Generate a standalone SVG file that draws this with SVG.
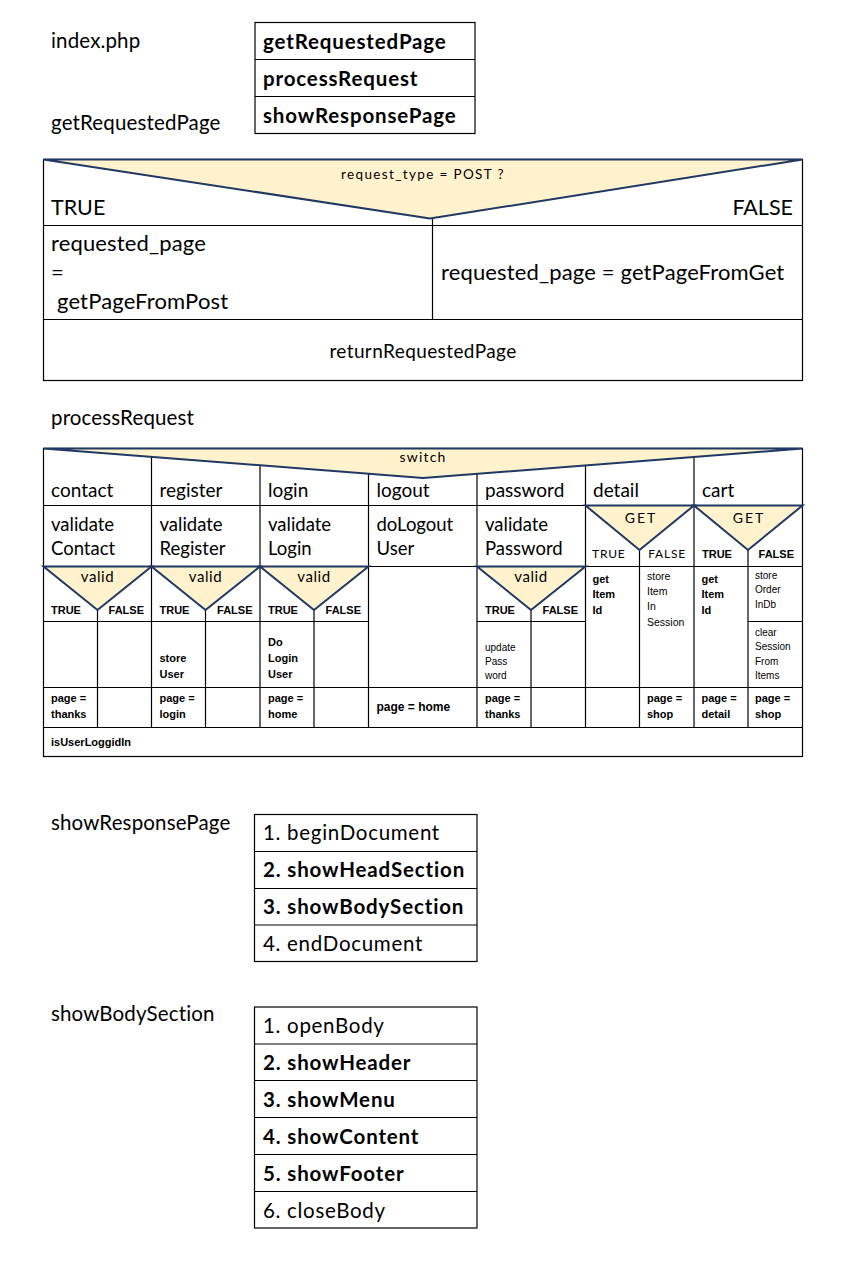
<svg xmlns="http://www.w3.org/2000/svg" width="850" height="1276" viewBox="0 0 850 1276">
<style>
.bg{fill:#fff}
.g{stroke:#000;stroke-width:1.2;fill:none}
.tri{fill:#fff2cc;stroke:#1f3864;stroke-width:2;stroke-linejoin:miter}
.t{font-family:Lato,"Liberation Sans",sans-serif;fill:#000}
.lb{font-size:20.5px;letter-spacing:0.15px}
.bx{font-size:20.5px;letter-spacing:0.7px}
.b{font-weight:bold;letter-spacing:0.85px}
.sb{font-family:"Liberation Sans",Arial,sans-serif;font-weight:bold;font-size:11px;fill:#000}
.sn{font-family:"Liberation Sans",Arial,sans-serif;font-size:10px;fill:#000}
.c{text-anchor:middle}
.e{text-anchor:end}
</style>
<rect class="bg" x="0" y="0" width="850" height="1276"/>

<g id="index">
  <text class="t lb" x="51" y="48">index.php</text>
  <rect class="g" x="255" y="22.5" width="220" height="111"/>
  <line class="g" x1="255" y1="59.5" x2="475" y2="59.5"/>
  <line class="g" x1="255" y1="96.5" x2="475" y2="96.5"/>
  <text class="t bx b" x="263" y="49">getRequestedPage</text>
  <text class="t bx b" x="263" y="86">processRequest</text>
  <text class="t bx b" x="263" y="123">showResponsePage</text>
</g>

<g id="getRequestedPage">
  <text class="t lb" x="51" y="130">getRequestedPage</text>
  <rect class="g" x="43.5" y="159.5" width="759" height="221"/>
  <line class="g" x1="43.5" y1="225.5" x2="802.5" y2="225.5"/>
  <line class="g" x1="43.5" y1="319.5" x2="802.5" y2="319.5"/>
  <line class="g" x1="432.5" y1="218" x2="432.5" y2="319.5"/>
  <polygon class="tri" points="43.5,159.5 802.5,159.5 430,218.5"/>
  <text class="t c" x="423" y="179" style="font-size:13.5px;letter-spacing:1.35px">request_type = POST ?</text>
  <text class="t" x="51" y="215" style="font-size:21.5px">TRUE</text>
  <text class="t e" x="793" y="215" style="font-size:21.5px">FALSE</text>
  <text class="t" x="51" y="251" style="font-size:22px;letter-spacing:0.15px">requested_page</text>
  <text class="t" x="51" y="280" style="font-size:22px">=</text>
  <text class="t" x="57" y="309" style="font-size:22px;letter-spacing:0.15px">getPageFromPost</text>
  <text class="t" x="441" y="280" style="font-size:22px;letter-spacing:0.15px">requested_page = getPageFromGet</text>
  <text class="t c" x="423" y="358" style="font-size:19px;letter-spacing:0.4px">returnRequestedPage</text>
</g>

<g id="processRequest">
  <text class="t lb" x="51" y="425">processRequest</text>
  <rect class="g" x="43.5" y="448.5" width="759" height="308"/>
  <g id="grid">
    <line class="g" x1="151.5" y1="448.5" x2="151.5" y2="727.5"/>
    <line class="g" x1="260" y1="448.5" x2="260" y2="727.5"/>
    <line class="g" x1="368.5" y1="448.5" x2="368.5" y2="727.5"/>
    <line class="g" x1="477" y1="448.5" x2="477" y2="727.5"/>
    <line class="g" x1="585.5" y1="448.5" x2="585.5" y2="727.5"/>
    <line class="g" x1="694" y1="448.5" x2="694" y2="727.5"/>
    <line class="g" x1="43.5" y1="505.5" x2="802.5" y2="505.5"/>
    <line class="g" x1="43.5" y1="566.5" x2="802.5" y2="566.5"/>
    <line class="g" x1="43.5" y1="621.5" x2="368.5" y2="621.5"/>
    <line class="g" x1="477" y1="621.5" x2="585.5" y2="621.5"/>
    <line class="g" x1="748" y1="621.5" x2="802.5" y2="621.5"/>
    <line class="g" x1="43.5" y1="687.5" x2="802.5" y2="687.5"/>
    <line class="g" x1="43.5" y1="727.5" x2="802.5" y2="727.5"/>
    <line class="g" x1="97.5" y1="610" x2="97.5" y2="727.5"/>
    <line class="g" x1="205.5" y1="610" x2="205.5" y2="727.5"/>
    <line class="g" x1="314" y1="610" x2="314" y2="727.5"/>
    <line class="g" x1="531" y1="610" x2="531" y2="727.5"/>
    <line class="g" x1="639.5" y1="550" x2="639.5" y2="727.5"/>
    <line class="g" x1="748" y1="550" x2="748" y2="727.5"/>
  </g>
  <polygon class="tri" points="43.5,448.5 802.5,448.5 423,478"/>
  <polygon class="tri" points="43.5,566.5 151.5,566.5 97.5,610"/>
  <polygon class="tri" points="151.5,566.5 260,566.5 205.5,610"/>
  <polygon class="tri" points="260,566.5 368.5,566.5 314,610"/>
  <polygon class="tri" points="477,566.5 585.5,566.5 531,610"/>
  <polygon class="tri" points="585.5,505.5 694,505.5 639.5,550"/>
  <polygon class="tri" points="694,505.5 802.5,505.5 748,550"/>

  <text class="t c" x="423" y="462" style="font-size:14px;letter-spacing:1.2px">switch</text>

  <g style="font-size:19px">
    <text class="t" x="51" y="497">contact</text>
    <text class="t" x="159.5" y="497">register</text>
    <text class="t" x="268" y="497">login</text>
    <text class="t" x="376.5" y="497">logout</text>
    <text class="t" x="485" y="497">password</text>
    <text class="t" x="593" y="497">detail</text>
    <text class="t" x="702" y="497">cart</text>
  </g>
  <g style="font-size:18.5px">
    <text class="t" x="51" y="531">validate</text>
    <text class="t" x="51" y="555">Contact</text>
    <text class="t" x="159.5" y="531">validate</text>
    <text class="t" x="159.5" y="555">Register</text>
    <text class="t" x="268" y="531">validate</text>
    <text class="t" x="268" y="555">Login</text>
    <text class="t" x="376.5" y="531">doLogout</text>
    <text class="t" x="376.5" y="555">User</text>
    <text class="t" x="485" y="531">validate</text>
    <text class="t" x="485" y="555">Password</text>
  </g>

  <g style="font-size:15px;letter-spacing:0.6px">
    <text class="t c" x="97.5" y="582">valid</text>
    <text class="t c" x="205.5" y="582">valid</text>
    <text class="t c" x="314" y="582">valid</text>
    <text class="t c" x="531" y="582">valid</text>
  </g>
  <g style="font-size:14px;letter-spacing:2px">
    <text class="t c" x="641" y="523">GET</text>
    <text class="t c" x="749" y="523">GET</text>
  </g>

  <text class="sb" x="51" y="614">TRUE</text>
  <text class="sb e" x="144" y="614">FALSE</text>
  <text class="sb" x="159.5" y="614">TRUE</text>
  <text class="sb e" x="252.5" y="614">FALSE</text>
  <text class="sb" x="268" y="614">TRUE</text>
  <text class="sb e" x="361" y="614">FALSE</text>
  <text class="sb" x="485" y="614">TRUE</text>
  <text class="sb e" x="578" y="614">FALSE</text>

  <text class="t" x="592" y="558" style="font-size:12px;letter-spacing:0.8px">TRUE</text>
  <text class="t e" x="686" y="558" style="font-size:12px;letter-spacing:0.8px">FALSE</text>
  <text class="sb" x="702" y="558">TRUE</text>
  <text class="sb e" x="794" y="558">FALSE</text>

  <text class="sb" x="159.5" y="662">store</text>
  <text class="sb" x="159.5" y="678">User</text>
  <text class="sb" x="268" y="646">Do</text>
  <text class="sb" x="268" y="662">Login</text>
  <text class="sb" x="268" y="678">User</text>
  <text class="sn" x="485" y="651">update</text>
  <text class="sn" x="485" y="665">Pass</text>
  <text class="sn" x="485" y="679">word</text>
  <text class="sb" x="592.5" y="583">get</text>
  <text class="sb" x="592.5" y="598">Item</text>
  <text class="sb" x="592.5" y="614">Id</text>
  <text class="sn" x="647" y="580" style="font-size:10.5px">store</text>
  <text class="sn" x="647" y="594.5" style="font-size:10.5px">Item</text>
  <text class="sn" x="647" y="609.5" style="font-size:10.5px">In</text>
  <text class="sn" x="647" y="625.5" style="font-size:10.5px">Session</text>
  <text class="sb" x="701.5" y="583">get</text>
  <text class="sb" x="701.5" y="598">Item</text>
  <text class="sb" x="701.5" y="614">Id</text>
  <text class="sn" x="755" y="579">store</text>
  <text class="sn" x="755" y="593">Order</text>
  <text class="sn" x="755" y="607.5">InDb</text>
  <text class="sn" x="755" y="635.5">clear</text>
  <text class="sn" x="755" y="650">Session</text>
  <text class="sn" x="755" y="664.5">From</text>
  <text class="sn" x="755" y="678.5">Items</text>

  <text class="sb" x="51" y="702">page =</text>
  <text class="sb" x="51" y="718">thanks</text>
  <text class="sb" x="159.5" y="702">page =</text>
  <text class="sb" x="159.5" y="718">login</text>
  <text class="sb" x="268" y="702">page =</text>
  <text class="sb" x="268" y="718">home</text>
  <text class="sb" x="376.5" y="711" style="font-size:12px">page = home</text>
  <text class="sb" x="485" y="702">page =</text>
  <text class="sb" x="485" y="718">thanks</text>
  <text class="sb" x="647" y="702">page =</text>
  <text class="sb" x="647" y="718">shop</text>
  <text class="sb" x="701.5" y="702">page =</text>
  <text class="sb" x="701.5" y="718">detail</text>
  <text class="sb" x="755" y="702">page =</text>
  <text class="sb" x="755" y="718">shop</text>

  <text class="sb" x="51" y="746">isUserLoggidIn</text>
</g>

<g id="showResponsePage">
  <text class="t lb" x="51" y="830">showResponsePage</text>
  <rect class="g" x="254.5" y="814.5" width="222.5" height="147"/>
  <line class="g" x1="254.5" y1="851.5" x2="477" y2="851.5"/>
  <line class="g" x1="254.5" y1="888.5" x2="477" y2="888.5"/>
  <line class="g" x1="254.5" y1="925" x2="477" y2="925"/>
  <text class="t bx" x="263" y="840">1. beginDocument</text>
  <text class="t bx b" x="263" y="877">2. showHeadSection</text>
  <text class="t bx b" x="263" y="914">3. showBodySection</text>
  <text class="t bx" x="263" y="951">4. endDocument</text>
</g>

<g id="showBodySection">
  <text class="t lb" x="51" y="1021">showBodySection</text>
  <rect class="g" x="254.5" y="1007" width="222.5" height="221"/>
  <line class="g" x1="254.5" y1="1044" x2="477" y2="1044"/>
  <line class="g" x1="254.5" y1="1080.5" x2="477" y2="1080.5"/>
  <line class="g" x1="254.5" y1="1117.5" x2="477" y2="1117.5"/>
  <line class="g" x1="254.5" y1="1154.5" x2="477" y2="1154.5"/>
  <line class="g" x1="254.5" y1="1191.5" x2="477" y2="1191.5"/>
  <text class="t bx" x="263" y="1033">1. openBody</text>
  <text class="t bx b" x="263" y="1070">2. showHeader</text>
  <text class="t bx b" x="263" y="1107">3. showMenu</text>
  <text class="t bx b" x="263" y="1144">4. showContent</text>
  <text class="t bx b" x="263" y="1181">5. showFooter</text>
  <text class="t bx" x="263" y="1218">6. closeBody</text>
</g>
</svg>
